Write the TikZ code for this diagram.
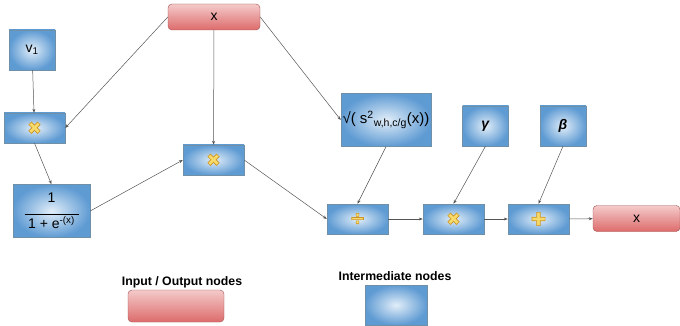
\documentclass[tikz,border=0pt]{standalone}
\usepackage{fontspec}
\setmainfont{Liberation Sans}
\newfontfamily\symfont{DejaVu Sans}
\usetikzlibrary{arrows.meta}

\definecolor{boxblue}{HTML}{5F9BD3}
\definecolor{boxlight}{HTML}{E2EEF9}
\definecolor{boxedge}{HTML}{7090A8}
\definecolor{iotop}{HTML}{F4CACA}
\definecolor{iobottom}{HTML}{DD6B6B}
\definecolor{ioedge}{HTML}{A05050}
\definecolor{opyellow}{HTML}{F7DB6A}
\definecolor{linegray}{HTML}{555555}

% outlined operator glyphs
\newcommand{\outlined}[1]{\special{pdf:literal direct 2 Tr 0.6 w 0.80 0.58 0.15 RG}#1\special{pdf:literal direct 0 Tr}}
\newcommand{\opmul}{{\symfont\fontsize{17}{17}\selectfont\color{opyellow}\outlined{✖}}}
\newcommand{\opdiv}{{\symfont\bfseries\fontsize{19}{19}\selectfont\color{opyellow}\outlined{÷}}}
\newcommand{\opadd}{{\symfont\fontsize{18}{18}\selectfont\color{opyellow}\outlined{✚}}}

\begin{document}
\begin{tikzpicture}[>={Stealth[length=4pt,width=3pt]}, x=1pt, y=-1pt,
  every node/.style={font=\fontsize{14}{16}\selectfont},
  inter/.style={rectangle, draw=boxedge, shading=radial, inner color=boxlight, outer color=boxblue, inner sep=0pt},
  opbox/.style={inter, minimum width=61pt, minimum height=30pt},
  parbox/.style={inter, minimum width=46pt, minimum height=40pt},
  iobox/.style={rectangle, rounded corners=4pt, draw=ioedge, top color=iotop, bottom color=iobottom, minimum height=26pt},
  legend/.style={font=\bfseries\fontsize{12.3}{14}\selectfont},
  conn/.style={->, draw=linegray, line width=0.5pt}]
\useasboundingbox (0,0) rectangle (680,326);

% === Input ===
\node[iobox, minimum width=92pt] (In) at (214,17) {x};

% === Sigmoid branch ===
\node[parbox] (V1) at (32,50) {v\textsubscript{1}};
\node[opbox] (Mul1) at (34.5,128) {\opmul};
\node[inter, minimum width=77pt, minimum height=53pt, align=center] 
  (Sig) at (51.5,211) {1\\[-4pt]\rule{54pt}{0.5pt}\\[-2pt]1 + e\textsuperscript{-(x)}};
\node[opbox] (Mul2) at (213.5,160) {\opmul};

% === Normalisation ===
\node[inter, minimum width=90pt, minimum height=53pt] 
  (Sqrt) at (386,120) {\fontsize{15}{17}\selectfont√( s\textsuperscript{2}\textsubscript{w,h,c/g}(x))};

% === Bottom row ===
\foreach \name/\x/\op in {Div/357.5/\opdiv, Mul3/453.5/\opmul, Add/538.5/\opadd}{
  \node[opbox] (\name) at (\x,219) {\op};
}

% === Parameters ===
\foreach \name/\x/\sym in {Gamma/485.5/γ, Beta/563/β}{
  \node[parbox] (\name) at (\x,126) {\textbf{\textit{\sym}}};
}

% === Output ===
\node[iobox, minimum width=87pt] (Out) at (636.5,218.5) {x};

% === Connections ===
\draw[conn] (In.west) -- (Mul1.east);
\draw[conn] (In) -- (Mul2);
\draw[conn] (In.east) -- (Sqrt.west);
\draw[conn] (V1) -- (Mul1);
\draw[conn] (Mul1.south) -- (Sig.north);
\draw[conn] (Sig.east) -- (Mul2.west);
\draw[conn] (Mul2.east) -- (Div.west);
\draw[conn] (Sqrt.south) -- (Div.north);
\draw[conn] (Gamma.south) -- (Mul3.north);
\draw[conn] (Beta.south) -- (Add.north);
\foreach \a/\b in {Div/Mul3, Mul3/Add, Add/Out}{
  \draw[conn] (\a) -- (\b);
}

% === Legend ===
\node[legend] (IOLabel) at (182,282) {Input / Output nodes};
\node[iobox, minimum width=96pt, minimum height=32pt] (IOKey) at (176,306) {};
\node[legend] (InterLabel) at (395,276) {Intermediate nodes};
\node[inter, minimum width=62pt, minimum height=40pt] (InterKey) at (396,305) {};

\end{tikzpicture}
\end{document}
